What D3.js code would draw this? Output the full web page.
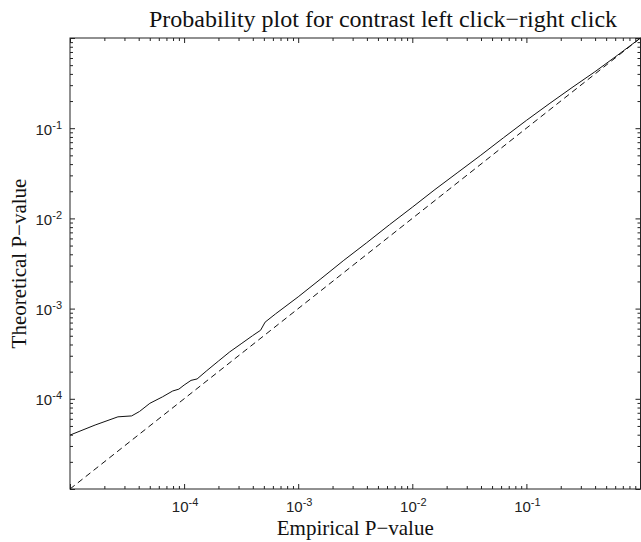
<!DOCTYPE html>
<html>
<head>
<meta charset="utf-8">
<script src="https://cdn.jsdelivr.net/npm/d3@7"></script>
<style>
  html, body { margin: 0; padding: 0; background: #fff; }
  svg { display: block; }
</style>
</head>
<body>
<svg id="chart" width="641" height="542"></svg>
<script>
// Empirical vs. theoretical p-values for the "left click − right click" contrast
const empirical = [
  1.0e-5, 1.66e-5, 2.63e-5, 3.47e-5, 4.07e-5, 5.01e-5, 6.46e-5, 7.94e-5,
  9.0e-5, 1.0e-4, 1.15e-4, 1.3e-4, 1.58e-4, 2.0e-4, 2.51e-4, 3.16e-4,
  3.98e-4, 4.68e-4, 5.13e-4, 6.31e-4, 1.0e-3, 1.58e-3, 2.51e-3, 3.98e-3,
  6.31e-3, 1.0e-2, 1.58e-2, 2.51e-2, 3.98e-2, 6.31e-2, 0.1, 0.158, 0.251,
  0.398, 0.631, 1.0
];
const theoretical = [
  3.96e-5, 5.12e-5, 6.31e-5, 6.46e-5, 7.24e-5, 8.91e-5, 1.05e-4, 1.22e-4,
  1.28e-4, 1.42e-4, 1.60e-4, 1.66e-4, 2.05e-4, 2.62e-4, 3.31e-4, 4.07e-4,
  5.01e-4, 5.75e-4, 7.08e-4, 8.71e-4, 1.35e-3, 2.14e-3, 3.43e-3, 5.37e-3,
  8.51e-3, 1.33e-2, 2.09e-2, 3.24e-2, 5.01e-2, 7.85e-2, 0.122, 0.186, 0.282,
  0.422, 0.646, 1.0
];
// Reference line: theoretical = empirical
const diagonal = [1e-5, 1];

// Decade ticks and their exponent labels
const decades = [1e-5, 1e-4, 1e-3, 1e-2, 1e-1, 1];
const xLabelValues = [1e-4, 1e-3, 1e-2, 1e-1];
const xLabelExps = ["-4", "-3", "-2", "-1"];
const yLabelValues = [1e-4, 1e-3, 1e-2, 1e-1];
const yLabelExps = ["-4", "-3", "-2", "-1"];

const titleText = "Probability plot for contrast left click\u2212right click";
const xTitle = "Empirical P\u2212value";
const yTitle = "Theoretical P\u2212value";

const margin = { left: 70, right: 0.5, top: 38, bottom: 53 };
const W = 641, H = 542;
const svg = d3.select("#chart");

const x = d3.scaleLog().domain([1e-5, 1]).range([margin.left, W - margin.right]);
const y = d3.scaleLog().domain([1e-5, 1]).range([H - margin.bottom, margin.top]);

// minor ticks: 2..9 within each decade
const minor = [];
decades.slice(0, -1).forEach(d => { for (let k = 2; k <= 9; k++) minor.push(d * k); });

function styleAxis(g) {
  g.select(".domain").remove();
  g.selectAll(".tick line").attr("stroke", "#222").attr("stroke-width", 1);
  g.selectAll(".tick text").remove();
}

const x0 = x.range()[0], x1 = x.range()[1];
const y0 = y.range()[0], y1 = y.range()[1];

// inward ticks on all four sides
[[d3.axisBottom, `translate(0,${y0})`, x],
 [d3.axisTop, `translate(0,${y1})`, x],
 [d3.axisLeft, `translate(${x0},0)`, y],
 [d3.axisRight, `translate(${x1},0)`, y]].forEach(([ax, tr, sc]) => {
  svg.append("g").attr("transform", tr)
    .call(ax(sc).tickValues(minor).tickSize(-3).tickFormat(""))
    .call(styleAxis);
  svg.append("g").attr("transform", tr)
    .call(ax(sc).tickValues(decades).tickSize(-5).tickFormat(""))
    .call(styleAxis);
});

// axes box
svg.append("rect")
  .attr("x", x0).attr("y", y1)
  .attr("width", x1 - x0).attr("height", y0 - y1)
  .attr("fill", "none").attr("stroke", "#222").attr("stroke-width", 1);

// tick labels (10 with a raised exponent)
const lbl = svg.append("g").attr("font-family", "Liberation Sans, Arial, sans-serif").attr("fill", "#222");
xLabelValues.forEach((v, i) => {
  const t = lbl.append("text")
    .attr("x", x(v) + 1).attr("y", y0 + 23)
    .attr("text-anchor", "middle").attr("font-size", 15);
  t.append("tspan").text("10");
  t.append("tspan").attr("font-size", 11).attr("dy", -6).text(xLabelExps[i]);
});
yLabelValues.forEach((v, i) => {
  const t = lbl.append("text")
    .attr("x", x0 - 8).attr("y", y(v) + 6.5)
    .attr("text-anchor", "end").attr("font-size", 15);
  t.append("tspan").text("10");
  t.append("tspan").attr("font-size", 11).attr("dy", -6).text(yLabelExps[i]);
});

// reference line
svg.append("line")
  .attr("x1", x(diagonal[0])).attr("y1", y(diagonal[0]))
  .attr("x2", x(diagonal[1])).attr("y2", y(diagonal[1]))
  .attr("stroke", "#111").attr("stroke-width", 1)
  .attr("stroke-dasharray", "6,4");

// observed curve
const line = d3.line().x((d, i) => x(empirical[i])).y(d => y(d));
svg.append("path")
  .datum(theoretical)
  .attr("d", line)
  .attr("fill", "none").attr("stroke", "#111").attr("stroke-width", 1);

// titles
const serif = "Liberation Serif, Times New Roman, serif";
svg.append("text")
  .attr("x", 383).attr("y", 27)
  .attr("text-anchor", "middle")
  .attr("font-family", serif).attr("font-size", 24).attr("fill", "#111")
  .text(titleText);

svg.append("text")
  .attr("x", (x0 + x1) / 2).attr("y", 535)
  .attr("text-anchor", "middle")
  .attr("font-family", serif).attr("font-size", 21).attr("fill", "#111")
  .text(xTitle);

svg.append("text")
  .attr("transform", `translate(26,${(y0 + y1) / 2}) rotate(-90)`)
  .attr("text-anchor", "middle")
  .attr("font-family", serif).attr("font-size", 21).attr("fill", "#111")
  .text(yTitle);
</script>
</body>
</html>
